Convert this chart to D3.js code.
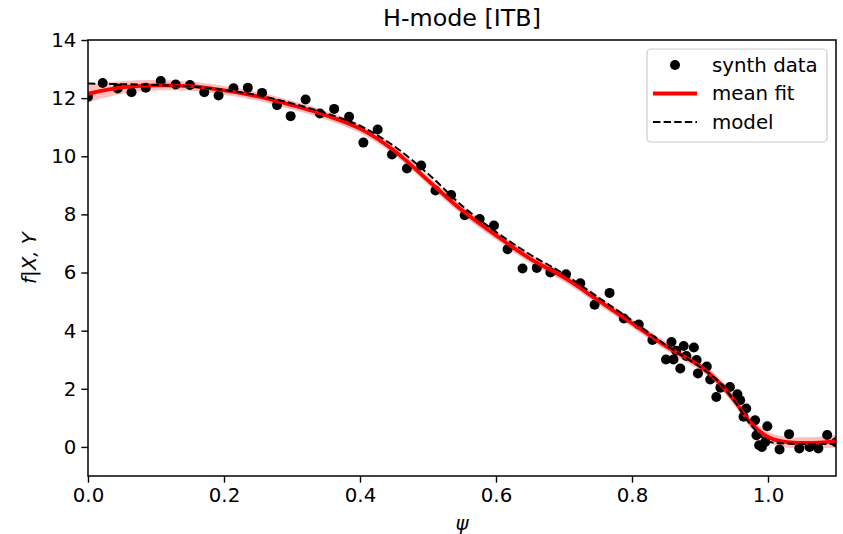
<!DOCTYPE html>
<html>
<head>
<meta charset="utf-8">
<script src="https://cdn.jsdelivr.net/npm/d3@7"></script>
<style>
  body { margin: 0; background: #fff; }
  svg { display: block; font-family: "DejaVu Sans", sans-serif; }
</style>
</head>
<body>
<svg id="chart" width="843" height="534"></svg>
<script>
// ---- data ----
const title = "H-mode [ITB]";
const xTicks = [0.0, 0.2, 0.4, 0.6, 0.8, 1.0];
const yTicks = [0, 2, 4, 6, 8, 10, 12, 14];
const xDomain = [0, 1.1];
const yDomain = [-1, 14];

const synthX = [0.000,0.0216,0.0436,0.064,0.085,0.107,0.129,0.150,0.171,0.192,0.214,0.235,0.256,0.278,0.298,0.320,0.341,0.362,0.384,0.405,0.426,0.447,0.469,0.490,0.511,0.534,0.554,0.576,0.597,0.617,0.639,0.660,0.680,0.703,0.724,0.745,0.767,0.788,0.810,0.830,0.850,0.858,0.861,0.865,0.871,0.876,0.880,0.891,0.895,0.897,0.910,0.915,0.924,0.930,0.944,0.955,0.959,0.964,0.968,0.981,0.983,0.987,0.991,0.996,0.999,1.017,1.031,1.046,1.061,1.074,1.087,1.100];
const synthY = [12.05,12.52,12.33,12.20,12.36,12.59,12.47,12.45,12.20,12.09,12.34,12.36,12.18,11.76,11.38,11.95,11.47,11.63,11.36,10.47,10.92,10.06,9.58,9.68,8.82,8.67,7.97,7.84,7.62,6.80,6.14,6.16,6.00,5.94,5.63,4.89,5.30,4.42,4.21,3.68,3.01,3.61,3.01,3.31,2.70,3.47,3.13,3.42,2.99,2.53,2.77,2.32,1.72,2.04,2.06,1.81,1.61,1.04,1.32,0.92,0.40,0.06,0.00,0.17,0.71,-0.09,0.44,-0.05,0.00,-0.05,0.41,0.16];

const curveX   = [0,0.05,0.1,0.15,0.2,0.25,0.3,0.35,0.4,0.45,0.5,0.55,0.6,0.65,0.7,0.75,0.8,0.85,0.9,0.925,0.95,0.975,1.0,1.025,1.05,1.075,1.1];
const fitMean  = [12.15,12.37,12.44,12.41,12.27,12.06,11.76,11.41,10.95,10.2,9.17,8.14,7.28,6.48,5.83,5.05,4.26,3.47,2.78,2.29,1.61,0.82,0.34,0.17,0.14,0.15,0.2];
const fitBand  = [0.3,0.22,0.18,0.16,0.15,0.15,0.15,0.15,0.15,0.15,0.15,0.15,0.15,0.15,0.15,0.15,0.15,0.15,0.15,0.16,0.17,0.18,0.18,0.18,0.19,0.2,0.22];
const modelY   = [12.5,12.48,12.45,12.4,12.28,12.1,11.82,11.48,11.05,10.35,9.4,8.3,7.4,6.62,5.95,5.15,4.35,3.5,2.75,2.3,1.6,0.75,0.2,0.12,0.1,0.1,0.1];

const legendLabels = ["synth data", "mean fit", "model"];

// ---- layout ----
const svg = d3.select("#chart");
const L = 88, R = 836, T = 40, B = 476;
const x = d3.scaleLinear().domain(xDomain).range([L, R]);
const y = d3.scaleLinear().domain(yDomain).range([B, T]);
const FS = 19.8;

svg.append("defs").append("clipPath").attr("id", "clip")
  .append("rect").attr("x", L).attr("y", T).attr("width", R - L).attr("height", B - T);

const plot = svg.append("g").attr("clip-path", "url(#clip)");

// band
const idx = d3.range(curveX.length);
plot.append("path")
  .attr("d", d3.area().curve(d3.curveCatmullRom)
    .x(i => x(curveX[i]))
    .y0(i => y(fitMean[i] - fitBand[i]))
    .y1(i => y(fitMean[i] + fitBand[i]))(idx))
  .attr("fill", "#ff0000").attr("fill-opacity", 0.25).attr("stroke", "none");

// points
plot.selectAll("circle.pt").data(d3.range(synthX.length)).join("circle")
  .attr("class", "pt")
  .attr("cx", i => x(synthX[i])).attr("cy", i => y(synthY[i]))
  .attr("r", 5).attr("fill", "#000");

// mean fit
plot.append("path")
  .attr("d", d3.line().curve(d3.curveCatmullRom).x(i => x(curveX[i])).y(i => y(fitMean[i]))(idx))
  .attr("fill", "none").attr("stroke", "#ff0000").attr("stroke-width", 3.8);

// model
plot.append("path")
  .attr("d", d3.line().curve(d3.curveCatmullRom).x(i => x(curveX[i])).y(i => y(modelY[i]))(idx))
  .attr("fill", "none").attr("stroke", "#000").attr("stroke-width", 2)
  .attr("stroke-dasharray", "7.4,3.2");

// axes
const xAxis = svg.append("g").attr("transform", `translate(0,${B})`)
  .call(d3.axisBottom(x).tickValues(xTicks).tickFormat(d3.format(".1f")).tickSizeOuter(0).tickSize(6.6).tickPadding(5));
const yAxis = svg.append("g").attr("transform", `translate(${L},0)`)
  .call(d3.axisLeft(y).tickValues(yTicks).tickFormat(d3.format("d")).tickSizeOuter(0).tickSize(6.6).tickPadding(5));
[xAxis, yAxis].forEach(a => {
  a.select(".domain").remove();
  a.selectAll("line").attr("stroke", "#000").attr("stroke-width", 1.4);
  a.selectAll("text").attr("font-size", FS).attr("fill", "#000").attr("font-family", "DejaVu Sans");
});

// frame
svg.append("rect").attr("x", L).attr("y", T).attr("width", R - L).attr("height", B - T)
  .attr("fill", "none").attr("stroke", "#000").attr("stroke-width", 1.5);

// title & labels
svg.append("text").attr("x", (L + R) / 2).attr("y", 26).attr("text-anchor", "middle")
  .attr("font-size", 23.8).attr("fill", "#000").text(title);
svg.append("text").attr("x", (L + R) / 2).attr("y", 530).attr("text-anchor", "middle")
  .attr("font-size", FS).attr("font-style", "italic").attr("fill", "#000").text("ψ");
svg.append("text").attr("transform", "translate(36,258) rotate(-90)").attr("text-anchor", "middle")
  .attr("font-size", FS).attr("font-style", "italic").attr("fill", "#000").text("f|X, Y");

// legend
const lg = svg.append("g");
lg.append("rect").attr("x", 647).attr("y", 49).attr("width", 180).attr("height", 93).attr("rx", 4)
  .attr("fill", "#fff").attr("fill-opacity", 0.8).attr("stroke", "#cccccc").attr("stroke-width", 1.2);
const rowY = [65, 93.5, 122];
lg.append("circle").attr("cx", 675).attr("cy", rowY[0]).attr("r", 5).attr("fill", "#000");
lg.append("line").attr("x1", 653).attr("x2", 697).attr("y1", rowY[1]).attr("y2", rowY[1])
  .attr("stroke", "#ff0000").attr("stroke-width", 3.8);
lg.append("line").attr("x1", 653).attr("x2", 697).attr("y1", rowY[2]).attr("y2", rowY[2])
  .attr("stroke", "#000").attr("stroke-width", 2).attr("stroke-dasharray", "7.4,3.2");
lg.selectAll("text.lab").data(legendLabels).join("text").attr("class", "lab")
  .attr("x", 712).attr("y", (d, i) => rowY[i]).attr("dy", "0.35em")
  .attr("font-size", FS).attr("fill", "#000").text(d => d);
</script>
</body>
</html>
